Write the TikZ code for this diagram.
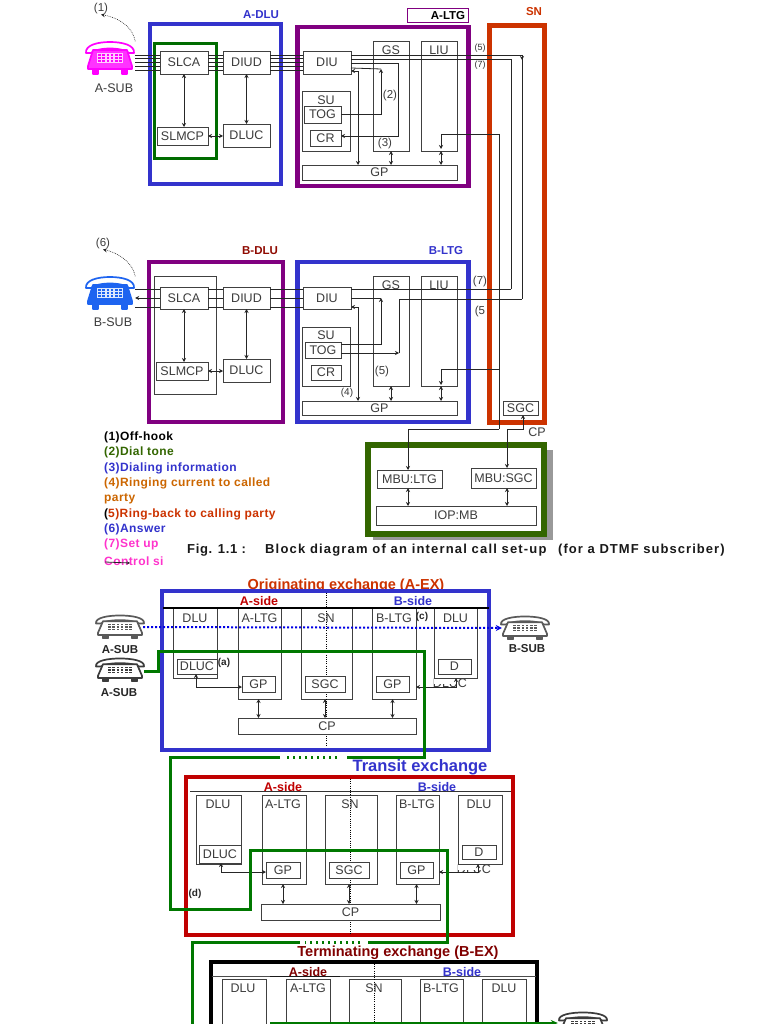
\documentclass[tikz,border=0pt]{standalone}
\usepackage{fontspec}
\setmainfont{Liberation Sans}
\usetikzlibrary{arrows.meta,calc}
\definecolor{myblue}{RGB}{51,51,204}
\definecolor{mypurple}{RGB}{128,0,128}
\definecolor{myorange}{RGB}{204,51,0}
\definecolor{mygreen}{RGB}{0,120,0}
\definecolor{dkgreen}{RGB}{51,102,0}
\definecolor{myred}{RGB}{192,0,0}
\definecolor{dkred}{RGB}{128,0,0}
\definecolor{mytext}{RGB}{60,60,60}
\definecolor{legor}{RGB}{204,102,0}
\definecolor{legpk}{RGB}{255,51,204}
\definecolor{phgrey}{RGB}{90,90,90}
\definecolor{phdark}{RGB}{60,60,60}
\definecolor{phblue}{RGB}{30,100,240}
\definecolor{phpink}{RGB}{255,0,255}
\tikzset{
 bx/.style={draw=black!75,fill=white,line width=0.8pt,inner sep=0pt,outer sep=0pt,text=mytext,font=\fontsize{12.5}{12.5}\selectfont},
 frame/.style={draw,line width=4.5pt},
 lab/.style={inner sep=0pt,text=mytext,font=\fontsize{12.5}{12.5}\selectfont},
 small/.style={inner sep=0pt,text=black!80,font=\fontsize{9}{9}\selectfont},
 num/.style={inner sep=0pt,text=mytext,font=\fontsize{11.5}{11.5}\selectfont},
 head/.style={inner sep=0pt,font=\bfseries\fontsize{11.5}{11.5}\selectfont},
 subl/.style={inner sep=0pt,text=black!85,font=\bfseries\fontsize{11.5}{11.5}\selectfont},
 sidel/.style={inner sep=0pt,font=\bfseries\fontsize{12.5}{12.5}\selectfont},
 leg/.style={inner sep=0pt,anchor=west,font=\bfseries\fontsize{12}{12}\selectfont\addfontfeature{LetterSpace=3.5}},
 capt/.style={inner sep=0pt,anchor=west,text=black!90},
 conn/.style={draw=black!85,line width=0.8pt},
 arr/.style={conn,-{Stealth[length=4pt,width=4pt]}},
 dbl/.style={conn,{Stealth[length=4pt,width=4pt]}-{Stealth[length=4pt,width=4pt]}},
 route/.style={draw=mygreen,line width=3pt,line join=miter},
 routedots/.style={draw=mygreen,line width=3pt,dash pattern=on 2.5pt off 3.5pt},
 vdot/.style={draw=black,line width=0.6pt,dash pattern=on 1pt off 1.2pt},
}
\newcommand{\rbox}[7][]{\node[bx,#1,anchor=north west,minimum width={(#5-#3)*1pt},minimum height={(#6-#4)*1pt}] (#2) at (#3,#4) {#7};}
% cx cy xscale yscale outline body keypad
\newcommand{\phoneart}[7]{%
 \begin{scope}[shift={(#1,#2)},xscale=#3,yscale=#4,line join=round]
  \draw[draw=#5,fill=white,line width=1.7pt] (-24,-5) .. controls (-25,-13) and (-12,-16) .. (0,-16) .. controls (12,-16) and (25,-13) .. (24,-5) -- (19,-5) .. controls (12,-11) and (-12,-11) .. (-19,-5) -- cycle;
  \draw[draw=#5,fill=#5,line width=1.5pt] (-17,11) -- ++(0,5) -- ++(5,0) -- ++(0,-5);
  \draw[draw=#5,fill=#5,line width=1.5pt] (17,11) -- ++(0,5) -- ++(-5,0) -- ++(0,-5);
  \draw[draw=#5,fill=#6,line width=1.7pt] (-17,-8) -- (17,-8) -- (22,8) -- (22,11) -- (-22,11) -- (-22,8) -- cycle;
  \fill[#7] (-13,-5) rectangle (13,5);
  \foreach \kx in {-10.5,-6.3,-2.1,2.1,6.3,10.5}{\foreach \ky in {-3,0,3}{\fill[#5] (\kx-1.3,\ky-0.8) rectangle (\kx+1.3,\ky+0.8);}}
 \end{scope}}
\begin{document}
\begin{tikzpicture}[x=1pt,y=-1pt]
\useasboundingbox (0,0) rectangle (768,1024);
\clip (0,0) rectangle (768,1024);
\fill[white] (0,0) rectangle (768,1024);

%%% ---- top: A side ----
\node[inner sep=0pt,minimum width=50pt,minimum height=33pt] (phoneA) at (110,58) {};
\phoneart{110}{58}{1}{1}{phpink}{phpink!80!white}{phpink!20!white}
\node[lab] (asubT) at (114,88) {A-SUB};
\node[num] (n1) at (101,9) {(1)};
\draw[arr,densely dotted,line width=0.6pt] (phoneA.north east) .. controls (132,24) and (115,17) .. (n1.south);

\draw[frame,myblue] (150,24) rectangle (281,184);
\node[head,text=myblue] (adluL) at (261,15) {A-DLU};
\draw[frame,mypurple] (297.5,27) rectangle (468.5,186);
\node[draw=mypurple,line width=0.8pt,minimum width=61pt,minimum height=14pt,inner sep=0pt] (altgBox) at (437.5,15) {};
\node[head,text=black] (altgL) at (448,16) {A-LTG};
\draw[line width=5pt,myorange] (489.5,25.5) rectangle (544.5,422.5);
\node[head,text=myorange] (snL) at (534,12) {SN};
\draw[draw=mygreen!90!black,line width=3pt] (154.5,43.5) rectangle (216.5,158.5);

\rbox{slcaA}{160}{51}{208}{74}{SLCA}
\rbox{diudA}{223}{51}{270}{74}{DIUD}
\rbox{slmcpA}{157}{127}{208}{145}{SLMCP}
\rbox{dlucA}{223}{124}{270}{147}{DLUC}
\rbox{diuA}{303}{51}{351}{74}{DIU}
\rbox{gsA}{373}{41}{409}{151}{}
\rbox{liuA}{421}{41}{457}{151}{}
\node[lab] (gsAL) at (391,50) {GS};
\node[lab] (liuAL) at (439,50) {LIU};
\rbox{suA}{302}{91}{350}{151}{}
\node[lab] (suAL) at (326,100) {SU};
\rbox{togA}{304}{106}{341}{123}{TOG}
\rbox{crA}{310}{130}{341}{146}{CR}
\rbox{gpA}{302}{165}{457}{180}{GP}

\foreach \d in {7.5,4,0.5,-3.5,-7.5}{
 \draw[conn] ([yshift=\d pt]phoneA.east |- slcaA.west) -- ([yshift=\d pt]slcaA.west);
 \draw[conn] ([yshift=\d pt]slcaA.east) -- ([yshift=\d pt]diudA.west);
 \draw[conn] ([yshift=\d pt]diudA.east) -- ([yshift=\d pt]diuA.west);
}
\draw[dbl] (slcaA.south) -- (slcaA.south |- slmcpA.north);
\draw[dbl] (diudA.south) -- (dlucA.north);
\draw[dbl] (slmcpA.east) -- (slmcpA.east -| dlucA.west);
\draw[dbl] (gsA.south) -- (gsA.south |- gpA.north);
\draw[dbl] ([xshift=2pt]liuA.south) -- ([xshift=2pt]liuA.south |- gpA.north);

% A-LTG wiring
\coordinate (r5top) at (522,55);
\coordinate (r5low) at (522,299);
\coordinate (r7low) at (511,289);
\coordinate (tsA) at (381,69);
\coordinate (crTurn) at (398,136);
\coordinate (gpTapA) at (358,165);
\draw[conn] ([yshift=7.5pt]diuA.east) -- (r5top) -- (r5low);
\draw[arr] (r5top) -- ++(0,5);
\draw[conn] ([yshift=3.5pt]diuA.east) -| (r7low);
\draw[arr] ([yshift=-0.5pt]diuA.east) -| (crTurn) -- (crA.east |- crTurn);
\draw[arr] (togA.east) -| (tsA);
\draw[conn] ([yshift=-5.5pt]diuA.east) -- (tsA);
\draw[dbl] ([yshift=-8.5pt]diuA.east) -| (gpTapA);

\node[small] (a5) at (480,48) {(5)};
\node[small] (a7) at (480,65) {(7)};
\node[num] (a2) at (390,96) {(2)};
\node[num] (a3) at (385,144) {(3)};

%%% ---- top: B side ----
\node[inner sep=0pt,minimum width=50pt,minimum height=33pt] (phoneB) at (110,293) {};
\phoneart{110}{293}{1}{1}{phblue}{phblue}{phblue!15!white}
\node[lab] (bsubT) at (113,322) {B-SUB};
\node[num] (n6) at (103,244) {(6)};
\draw[arr,densely dotted,line width=0.6pt] (phoneB.north east) .. controls (132,260) and (115,252) .. (n6.south);

\draw[frame,mypurple] (149,262) rectangle (283,422);
\node[head,text=dkred!80!myorange] (bdluL) at (260,251) {B-DLU};
\draw[frame,myblue] (297.5,262) rectangle (468.5,422);
\node[head,text=myblue] (bltgL) at (446,251) {B-LTG};
\draw[draw=black!75,line width=0.8pt] (154,276) rectangle (216,394);

\rbox{slcaB}{160}{287}{208}{309}{SLCA}
\rbox{diudB}{223}{287}{270}{309}{DIUD}
\rbox{slmcpB}{156}{362}{208}{380}{SLMCP}
\rbox{dlucB}{223}{359}{270}{382}{DLUC}
\rbox{diuB}{303}{287}{351}{309}{DIU}
\rbox{gsB}{373}{276}{409}{386}{}
\rbox{liuB}{421}{276}{457}{386}{}
\node[lab] (gsBL) at (391,285) {GS};
\node[lab] (liuBL) at (439,285) {LIU};
\rbox{suB}{302}{327}{350}{386}{}
\node[lab] (suBL) at (326,335) {SU};
\rbox{togB}{305}{342}{341}{358}{TOG}
\rbox{crB}{311}{365}{341}{380}{CR}
\rbox{gpB}{302}{401}{457}{415}{GP}
\rbox{sgcT}{503}{401}{538}{415}{SGC}

\foreach \d in {9,-9}{
 \draw[conn] ([yshift=\d pt]phoneB.east |- slcaB.west) -- ([yshift=\d pt]slcaB.west);
}
\draw[arr] (slcaB.west) -- (slcaB.west -| phoneB.east);
\foreach \d in {9,0,-9}{
 \draw[conn] ([yshift=\d pt]slcaB.east) -- ([yshift=\d pt]diudB.west);
 \draw[conn] ([yshift=\d pt]diudB.east) -- ([yshift=\d pt]diuB.west);
}
\draw[conn] ([yshift=9pt]diuB.east) -- (r7low);
\draw[dbl] (slcaB.south) -- (slcaB.south |- slmcpB.north);
\draw[dbl] (diudB.south) -- (dlucB.north);
\draw[dbl] (slmcpB.east) -- (slmcpB.east -| dlucB.west);
\draw[dbl] (gsB.south) -- (gsB.south |- gpB.north);
\draw[dbl] ([xshift=2pt]liuB.south) -- ([xshift=2pt]liuB.south |- gpB.north);

\coordinate (tsB) at (381,298);
\coordinate (gpTapB) at (358,401);
\coordinate (ringB) at (399,353);
\draw[conn] (diuB.east) -- (tsB);
\draw[arr] ([yshift=6pt]togB.east) -| (tsB);
\draw[arr] ([yshift=-3pt]togB.east) -- (ringB);
\draw[conn] (ringB) |- (r5low);
\draw[dbl] ([yshift=-9pt]diuB.east) -| (gpTapB);

\coordinate (liuTopA) at (441,149);
\coordinate (liuElbowA) at (441,134);
\coordinate (busA) at (499,134);
\coordinate (busB) at (499,369);
\coordinate (liuElbowB) at (441,369);
\coordinate (liuTopB) at (441,385);
\coordinate (busC) at (499,429);
\draw[arr] (busA) -- (liuElbowA) -- (liuTopA);
\draw[conn] (busA) -- (busC);
\draw[arr] (busB) -- (liuElbowB) -- (liuTopB);

\node[num] (b7) at (480,282) {(7)};
\node[num] (b5) at (480,312) {(5};
\node[num] (b5a) at (382,372) {(5)};
\node[small,font=\fontsize{10}{10}\selectfont] (b4) at (347,393) {(4)};

%%% ---- MBU ----
\fill[gray!80] (373,450) rectangle (553,540);
\draw[line width=5.5pt,dkgreen,fill=white] (368,445) rectangle (544,534);
\rbox{mbuL}{377}{470}{442}{488}{MBU:LTG}
\rbox{mbuS}{471}{468}{536}{488}{MBU:SGC}
\rbox{iop}{376}{506}{536}{525}{IOP:MB}
\node[lab] (cpT) at (537,432) {CP};
\coordinate (ltgUp) at (408,429);
\coordinate (sgcUp) at (507,429);
\coordinate (sgcEl) at (523,429);
\draw[conn] (busC) -- (ltgUp);
\draw[arr] (ltgUp) -- (ltgUp |- mbuL.north);
\draw[arr] (sgcUp) -- (sgcUp |- mbuS.north);
\draw[arr] (sgcUp) -- (sgcEl) -- (sgcEl |- sgcT.south);
\draw[dbl] (ltgUp |- mbuL.south) -- (ltgUp |- iop.north);
\draw[dbl] (sgcUp |- mbuS.south) -- (sgcUp |- iop.north);

%%% ---- legend ----
\node[leg] (l1) at (104,437) {(1)Off-hook};
\node[leg,text=dkgreen] (l2) at (104,452) {(2)Dial tone};
\node[leg,text=myblue] (l3) at (104,468) {(3)Dialing information};
\node[leg,text=legor] (l4) at (104,483) {(4)Ringing current to called};
\node[leg,text=legor] (l4b) at (104,499) {party};
\node[leg,text=myorange] (l5) at (104,514) {{\color{black}(}5)Ring-back to calling party};
\node[leg,text=myblue] (l6) at (104,529) {(6)Answer};
\node[leg,text=legpk] (l7) at (104,544) {(7)Set up};
\node[leg,text=legpk] (l7b) at (104,561) {Control si};
\coordinate (legTip) at (130,563);
\draw[conn,-{Stealth[length=3pt,width=3pt]}] (l7b.west) ++(1,1) -- (legTip);
\node[capt,font=\bfseries\fontsize{13}{13}\selectfont\addfontfeature{LetterSpace=5}] (cap1) at (187,550) {Fig. 1.1 :};
\node[capt,font=\bfseries\fontsize{13}{13}\selectfont\addfontfeature{LetterSpace=9}] (cap2) at (265,550) {Block diagram of an internal call set-up};
\node[capt,font=\bfseries\fontsize{13}{13}\selectfont\addfontfeature{LetterSpace=8}] (cap3) at (558,550) {(for a DTMF subscriber)};

%%% ---- Originating exchange ----
\node[inner sep=0pt,text=myorange,font=\bfseries\fontsize{14.5}{14.5}\selectfont] (tA) at (346,585.5) {Originating exchange (A-EX)};
\node[lab] (lucA) at (450,683.5) {DLUC};
\fill[white] (434,678) rectangle (458,684);
\rbox{dlu1A}{173}{608}{217}{678}{}
\rbox{ltg1A}{238}{608}{281}{699}{}
\rbox{sn1}{301}{608}{352}{699}{}
\rbox{ltg2A}{372}{608}{416}{699}{}
\rbox{dlu2A}{434}{608}{477}{678}{}
\draw[frame,myblue] (162,591) rectangle (489,750);
\draw[black,line width=1.2pt] (163,608) -- (489,608);
\node[sidel,text=myred] (asA) at (259,601) {A-side};
\node[sidel,text=myblue] (bsA) at (413,601) {B-side};
\draw[vdot] (326,593) -- (326,747);
\node[lab] (x1) at (195,618) {DLU};
\node[lab] (x2) at (259.5,618) {A-LTG};
\node[lab] (x3) at (326,618) {SN};
\node[lab] (x4) at (394,618) {B-LTG};
\node[lab] (x5) at (455.5,618) {DLU};
\rbox{dlucX}{177}{659}{217}{674}{DLUC}
\rbox{dX}{438}{659}{471}{674}{D}
\rbox{gp1X}{242}{676}{275}{692}{GP}
\rbox{sgcX}{305}{676}{345}{692}{SGC}
\rbox{gp2X}{376}{676}{409}{692}{GP}
\rbox{cpX}{238}{718}{416}{734}{CP}
\draw[dbl] (gp1X.south |- ltg1A.south) -- (gp1X.south |- cpX.north);
\draw[dbl] (sgcX.south |- sn1.south) -- (sgcX.south |- cpX.north);
\draw[dbl] (gp2X.south |- ltg2A.south) -- (gp2X.south |- cpX.north);
\coordinate (e1) at (198,687);
\coordinate (e2) at (456,687);
\draw[dbl] ([xshift=-1pt]dlucX.south) |- (gp1X.west |- e1);
\draw[dbl] (e2 |- dlu2A.south) |- (ltg2A.east |- e2);
\node[inner sep=0pt,font=\bfseries\fontsize{10}{10}\selectfont,text=black!85] (ma) at (224,663) {(a)};
\node[inner sep=0pt,font=\bfseries\fontsize{10}{10}\selectfont,text=black!85] (mc) at (422,617) {(c)};

\node[inner sep=0pt,minimum width=50pt,minimum height=24pt] (phG1) at (120,627) {};
\phoneart{120}{627}{1}{0.72}{phgrey}{white}{white}
\node[inner sep=0pt,minimum width=50pt,minimum height=24pt] (phG2) at (525,628) {};
\phoneart{525}{628}{1}{0.72}{phgrey}{white}{white}
\node[inner sep=0pt,minimum width=50pt,minimum height=24pt] (phG3) at (120,670) {};
\phoneart{120}{670}{1}{0.72}{phdark}{white}{white}
\node[subl] (s1) at (120,650) {A-SUB};
\node[subl] (s2) at (527,649) {B-SUB};
\node[subl] (s3) at (119,693) {A-SUB};
\draw[draw=blue!90!black,line width=2pt,dash pattern=on 2pt off 2pt,-{Stealth[length=6pt,width=6pt]}] ([xshift=-2pt]phG1.east) -- ([xshift=2pt]phG2.west);

%%% ---- Transit exchange ----
\node[inner sep=0pt,text=myblue,font=\bfseries\fontsize{16.5}{16.5}\selectfont] (tT) at (420,767) {Transit exchange};
\node[lab] (lucT) at (474,869.5) {DLUC};
\fill[white] (458,864) rectangle (482,870);
\rbox{dlu1T}{196}{795}{241}{864}{}
\rbox{ltg1T}{262}{795}{306}{884}{}
\rbox{sn2}{325}{795}{377}{884}{}
\rbox{ltg2T}{396}{795}{439}{884}{}
\rbox{dlu2T}{458}{795}{502}{864}{}
\draw[frame,myred] (186,777) rectangle (513,935);
\node[sidel,text=myred] (asT) at (283,787) {A-side};
\node[sidel,text=myblue] (bsT) at (437,787) {B-side};
\draw[black!80,line width=0.8pt] (190,791) -- (511,791);
\draw[vdot] (350,779) -- (350,934);
\node[lab] (y1) at (218,804) {DLU};
\node[lab] (y2) at (283,804) {A-LTG};
\node[lab] (y3) at (350,804) {SN};
\node[lab] (y4) at (417,804) {B-LTG};
\node[lab] (y5) at (479,804) {DLU};
\rbox{dlucT}{199}{845}{241}{863}{DLUC}
\rbox{dT}{462}{845}{496}{859}{D}
\rbox{gp1T}{266}{862}{300}{878}{GP}
\rbox{sgcTx}{329}{862}{369}{878}{SGC}
\rbox{gp2T}{400}{862}{433}{878}{GP}
\rbox{cpT2}{261}{904}{440}{920}{CP}
\draw[dbl] (gp1T.south |- ltg1T.south) -- (gp1T.south |- cpT2.north);
\draw[dbl] (sgcTx.south |- sn2.south) -- (sgcTx.south |- cpT2.north);
\draw[dbl] (gp2T.south |- ltg2T.south) -- (gp2T.south |- cpT2.north);
\coordinate (f1) at (221,872);
\coordinate (f2) at (478,872);
\draw[dbl] (f1 |- dlucT.south) |- (gp1T.west |- f1);
\draw[dbl] (f2 |- dlu2T.south) |- (ltg2T.east |- f2);
\node[inner sep=0pt,font=\bfseries\fontsize{10}{10}\selectfont,text=black!85] (md) at (195,894) {(d)};

%%% ---- Terminating exchange ----
\node[inner sep=0pt,text=dkred,font=\bfseries\fontsize{14.5}{14.5}\selectfont] (tB) at (398,953) {Terminating exchange (B-EX)};
\rbox{dlu1B}{222}{979}{266}{1040}{}
\rbox{ltg1B}{286}{979}{330}{1040}{}
\rbox{sn3}{349}{979}{401}{1040}{}
\rbox{ltg2B}{420}{979}{463}{1040}{}
\rbox{dlu2B}{482}{979}{526}{1040}{}
\draw[frame,black] (211,962) rectangle (537,1060);
\node[sidel,text=dkred] (asB) at (308,972) {A-side};
\node[sidel,text=myblue] (bsB) at (462,972) {B-side};
\draw[black!70,line width=0.8pt] (212,976) -- (536,976);
\draw[black!90,line width=1pt] (270,976) -- (340,976);
\draw[vdot] (374,964) -- (374,1024);
\node[lab] (z1) at (243,988) {DLU};
\node[lab] (z2) at (308,988) {A-LTG};
\node[lab] (z3) at (374,988) {SN};
\node[lab] (z4) at (441,988) {B-LTG};
\node[lab] (z5) at (504,988) {DLU};
\node[inner sep=0pt,minimum width=50pt,minimum height=24pt] (phG4) at (583,1024) {};
\phoneart{583}{1024}{1}{0.72}{phdark}{white}{white}

%%% ---- green route ----
\coordinate (g1) at (158,671);
\coordinate (g2) at (158,651);
\coordinate (g3) at (424,651);
\coordinate (g4) at (424,757);
\coordinate (g5) at (347,757);
\coordinate (g6) at (337,757);
\coordinate (g7) at (285,757);
\coordinate (g8) at (280,757);
\coordinate (g9) at (170,757);
\coordinate (g10) at (170,909);
\coordinate (g11) at (250,909);
\coordinate (g12) at (250,850);
\coordinate (g13) at (447,850);
\coordinate (g14) at (447,942);
\coordinate (g15) at (368,942);
\coordinate (g16) at (360,942);
\coordinate (g17) at (305,942);
\coordinate (g18) at (300,942);
\coordinate (g19) at (192,942);
\coordinate (g20) at (192,1026);
\coordinate (g21) at (270,1023);
\draw[route] (phG3.east) ++(-1,1) -- (g1) -- (g2) -- (g3) -- (g4) -- (g5);
\draw[routedots] (g6) -- (g7);
\draw[route] (g8) -- (g9) -- (g10) -- (g11) -- (g12) -- (g13) -- (g14) -- (g15);
\draw[routedots] (g16) -- (g17);
\draw[route] (g18) -- (g19) -- (g20);
\draw[draw=mygreen,line width=2pt,-{Stealth[length=7pt,width=6pt]}] (g21) -- (phG4.west |- g21);
\end{tikzpicture}
\end{document}
